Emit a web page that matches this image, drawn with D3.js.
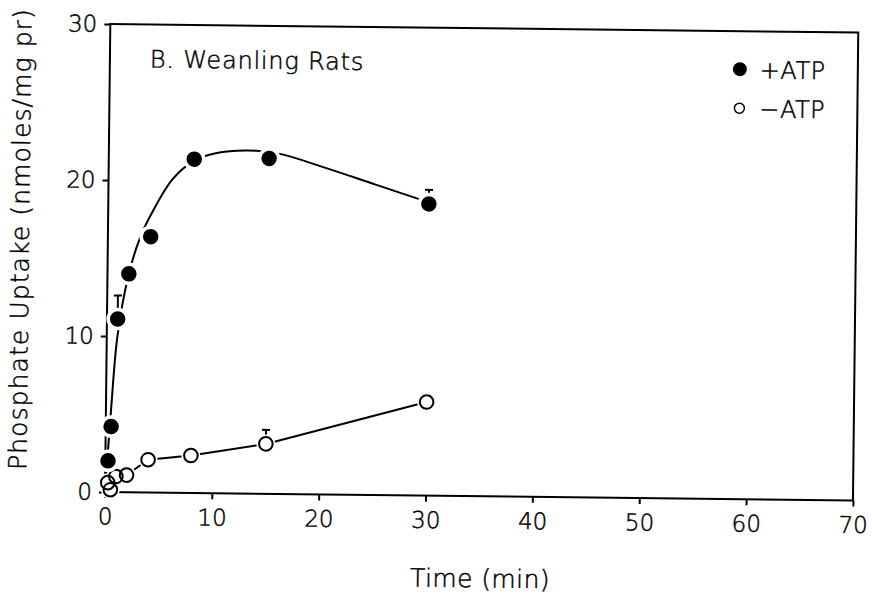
<!DOCTYPE html>
<html>
<head>
<meta charset="utf-8">
<script src="https://cdn.jsdelivr.net/npm/d3@7"></script>
<style>
  body { margin: 0; background: #fff; }
  text { font-family: "DejaVu Sans", sans-serif; font-weight: 200; fill: #000; stroke: #000; stroke-width: 0.45; }
</style>
</head>
<body>
<svg id="chart" width="873" height="595"></svg>
<script>
// data
const timePlus = [0.25, 0.5, 1, 2, 4, 8, 15, 30];
const uptakePlus = [2.0, 4.2, 11.1, 14.0, 16.4, 21.4, 21.5, 18.7];
const errPlus = [0, 0, 1.5, 0, 0, 0, 0, 0.9];

const timeMinus = [0.25, 0.5, 1, 2, 4, 8, 15, 30];
const uptakeMinus = [0.6, 0.15, 1.0, 1.1, 2.1, 2.4, 3.2, 6.0];
const errMinus = [0, 0, 0, 0, 0, 0, 0.9, 0];

// smooth curve drawn through the +ATP data
const fitTime = [0, 0.5, 1, 2, 3, 4, 6, 8, 10, 13, 16, 20, 25, 30];
const fitPlus = [0, 5.5, 10, 14, 16.3, 17.8, 20.1, 21.3, 21.8, 22, 21.8, 21, 19.9, 18.8];

const xTicks = [0, 10, 20, 30, 40, 50, 60, 70];
const yTicks = [0, 10, 20, 30];

const svg = d3.select('#chart');
const ox = 105, oy = 492, W = 748, H = 468;

// the scanned figure is slightly tilted
const g = svg.append('g')
  .attr('transform', `translate(${ox},${oy}) rotate(0.65) translate(0,${-H})`);

const x = d3.scaleLinear().domain([0, 70]).range([0, W]);
const y = d3.scaleLinear().domain([0, 30]).range([H, 0]);

// frame
g.append('rect')
  .attr('width', W).attr('height', H)
  .attr('fill', 'none').attr('stroke', '#000').attr('stroke-width', 2);

// axes
const xAxis = g.append('g')
  .attr('transform', `translate(0,${H})`)
  .call(d3.axisBottom(x).tickValues(xTicks).tickSize(6).tickPadding(10));
const yAxis = g.append('g')
  .call(d3.axisLeft(y).tickValues(yTicks).tickSize(6).tickPadding(7));
[xAxis, yAxis].forEach(a => {
  a.select('.domain').remove();
  a.selectAll('line').attr('stroke', '#000').attr('stroke-width', 2);
  a.selectAll('text').attr('font-size', 23).attr('font-family', null);
});

// axis titles
g.append('text')
  .attr('x', W / 2 + 2).attr('y', H + 91)
  .attr('text-anchor', 'middle').attr('font-size', 25).attr('letter-spacing', 0.4)
  .text('Time (min)');
g.append('text')
  .attr('transform', `translate(-79,${H / 2 - 18}) rotate(-90)`)
  .attr('text-anchor', 'middle').attr('font-size', 25).attr('letter-spacing', 1.1)
  .text('Phosphate Uptake (nmoles/mg pr)');

// panel title
g.append('text')
  .attr('x', 40).attr('y', 43).attr('font-size', 24).attr('letter-spacing', 0.8)
  .text('B. Weanling Rats');

// +ATP fitted curve
const fit = fitTime.map((t, i) => [t, fitPlus[i]]);
g.append('path')
  .datum(fit)
  .attr('d', d3.line().x(d => x(d[0])).y(d => y(d[1])).curve(d3.curveCatmullRom))
  .attr('fill', 'none').attr('stroke', '#000').attr('stroke-width', 2);

// -ATP line
const minus = timeMinus.map((t, i) => ({ t, v: uptakeMinus[i], e: errMinus[i] }));
const plus = timePlus.map((t, i) => ({ t, v: uptakePlus[i], e: errPlus[i] }));
g.append('path')
  .datum(minus)
  .attr('d', d3.line().x(d => x(d.t)).y(d => y(d.v)))
  .attr('fill', 'none').attr('stroke', '#000').attr('stroke-width', 2);

// error bars (upper only)
[...plus, ...minus].filter(d => d.e > 0).forEach(d => {
  g.append('line')
    .attr('x1', x(d.t)).attr('x2', x(d.t))
    .attr('y1', y(d.v)).attr('y2', y(d.v + d.e))
    .attr('stroke', '#000').attr('stroke-width', 2);
  g.append('line')
    .attr('x1', x(d.t) - 4).attr('x2', x(d.t) + 4)
    .attr('y1', y(d.v + d.e)).attr('y2', y(d.v + d.e))
    .attr('stroke', '#000').attr('stroke-width', 2);
});

// markers with white halo so lines break around them
g.selectAll('.halo')
  .data(minus)
  .join('circle')
  .attr('cx', d => x(d.t)).attr('cy', d => y(d.v)).attr('r', 9.5)
  .attr('fill', '#fff');
g.selectAll('.open')
  .data(minus)
  .join('circle')
  .attr('cx', d => x(d.t)).attr('cy', d => y(d.v)).attr('r', 6.8)
  .attr('fill', 'none').attr('stroke', '#000').attr('stroke-width', 2);
g.selectAll('.filled')
  .data(plus)
  .join('circle')
  .attr('cx', d => x(d.t)).attr('cy', d => y(d.v)).attr('r', 9.5)
  .attr('fill', '#000').attr('stroke', '#fff').attr('stroke-width', 3.5);

// legend
const lg = g.append('g').attr('transform', `translate(630,38)`);
lg.append('circle').attr('cx', 0).attr('cy', 0).attr('r', 7).attr('fill', '#000');
lg.append('text').attr('x', 20).attr('y', 9).attr('font-size', 24).attr('letter-spacing', 0.5).text('+ATP');
lg.append('circle').attr('cx', 0).attr('cy', 39).attr('r', 5).attr('fill', 'none')
  .attr('stroke', '#000').attr('stroke-width', 1.5);
lg.append('text').attr('x', 20).attr('y', 48).attr('font-size', 24).attr('letter-spacing', 0.5).text('\u2212ATP');
</script>
</body>
</html>
